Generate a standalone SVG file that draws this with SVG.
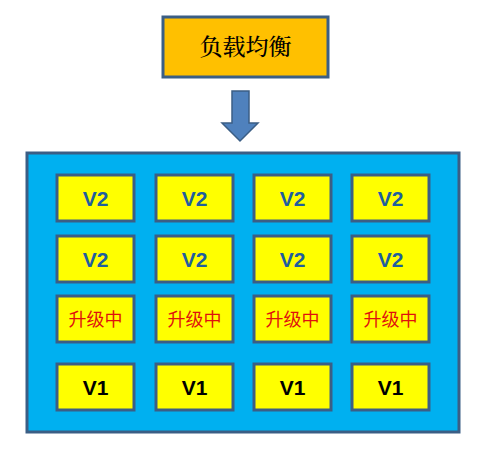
<svg xmlns="http://www.w3.org/2000/svg" width="483" height="450" viewBox="0 0 483 450">
<style>
.box{fill:#FFFF00;stroke:#3B5E85;stroke-width:3}
.v2{font-family:"Liberation Sans",Arial,sans-serif;font-weight:bold;font-size:21px;fill:#1F5E9E;text-anchor:middle}
.v1{font-family:"Liberation Sans",Arial,sans-serif;font-weight:bold;font-size:21px;fill:#000;text-anchor:middle}
.up{font-family:"Noto Sans CJK SC",sans-serif;font-size:18px;fill:#E0100E;text-anchor:middle}
</style>
<rect width="483" height="450" fill="#fff"/>
<g id="lb">
<rect x="163" y="17" width="165" height="60" fill="#FFC000" stroke="#3B5E85" stroke-width="3"/>
<text x="245.5" y="55" font-family="'Noto Serif CJK SC','Noto Sans CJK SC',serif" font-size="23" font-weight="500" text-anchor="middle" fill="#000">负载均衡</text>
</g>
<g id="connectors">
<path d="M232,91 H249 V123 H258 L240,141 L222,123 H232 Z" fill="#4F81BD" stroke="#3B5E85" stroke-width="1.5"/>
</g>
<g id="cluster">
<rect x="27" y="153" width="432" height="279" fill="#00B0F0" stroke="#3B5E85" stroke-width="3"/>
</g>
<g id="r1c1"><rect class="box" x="57" y="175" width="77" height="46"/><text class="v2" x="95.5" y="206">V2</text></g>
<g id="r1c2"><rect class="box" x="156" y="175" width="77" height="46"/><text class="v2" x="194.5" y="206">V2</text></g>
<g id="r1c3"><rect class="box" x="254" y="175" width="77" height="46"/><text class="v2" x="292.5" y="206">V2</text></g>
<g id="r1c4"><rect class="box" x="352" y="175" width="77" height="46"/><text class="v2" x="390.5" y="206">V2</text></g>
<g id="r2c1"><rect class="box" x="57" y="236" width="77" height="46"/><text class="v2" x="95.5" y="267">V2</text></g>
<g id="r2c2"><rect class="box" x="156" y="236" width="77" height="46"/><text class="v2" x="194.5" y="267">V2</text></g>
<g id="r2c3"><rect class="box" x="254" y="236" width="77" height="46"/><text class="v2" x="292.5" y="267">V2</text></g>
<g id="r2c4"><rect class="box" x="352" y="236" width="77" height="46"/><text class="v2" x="390.5" y="267">V2</text></g>
<g id="r3c1"><rect class="box" x="57" y="296" width="77" height="46"/><text class="up" x="95.5" y="326">升级中</text></g>
<g id="r3c2"><rect class="box" x="156" y="296" width="77" height="46"/><text class="up" x="194.5" y="326">升级中</text></g>
<g id="r3c3"><rect class="box" x="254" y="296" width="77" height="46"/><text class="up" x="292.5" y="326">升级中</text></g>
<g id="r3c4"><rect class="box" x="352" y="296" width="77" height="46"/><text class="up" x="390.5" y="326">升级中</text></g>
<g id="r4c1"><rect class="box" x="57" y="364" width="77" height="46"/><text class="v1" x="95.5" y="395">V1</text></g>
<g id="r4c2"><rect class="box" x="156" y="364" width="77" height="46"/><text class="v1" x="194.5" y="395">V1</text></g>
<g id="r4c3"><rect class="box" x="254" y="364" width="77" height="46"/><text class="v1" x="292.5" y="395">V1</text></g>
<g id="r4c4"><rect class="box" x="352" y="364" width="77" height="46"/><text class="v1" x="390.5" y="395">V1</text></g>
</svg>
